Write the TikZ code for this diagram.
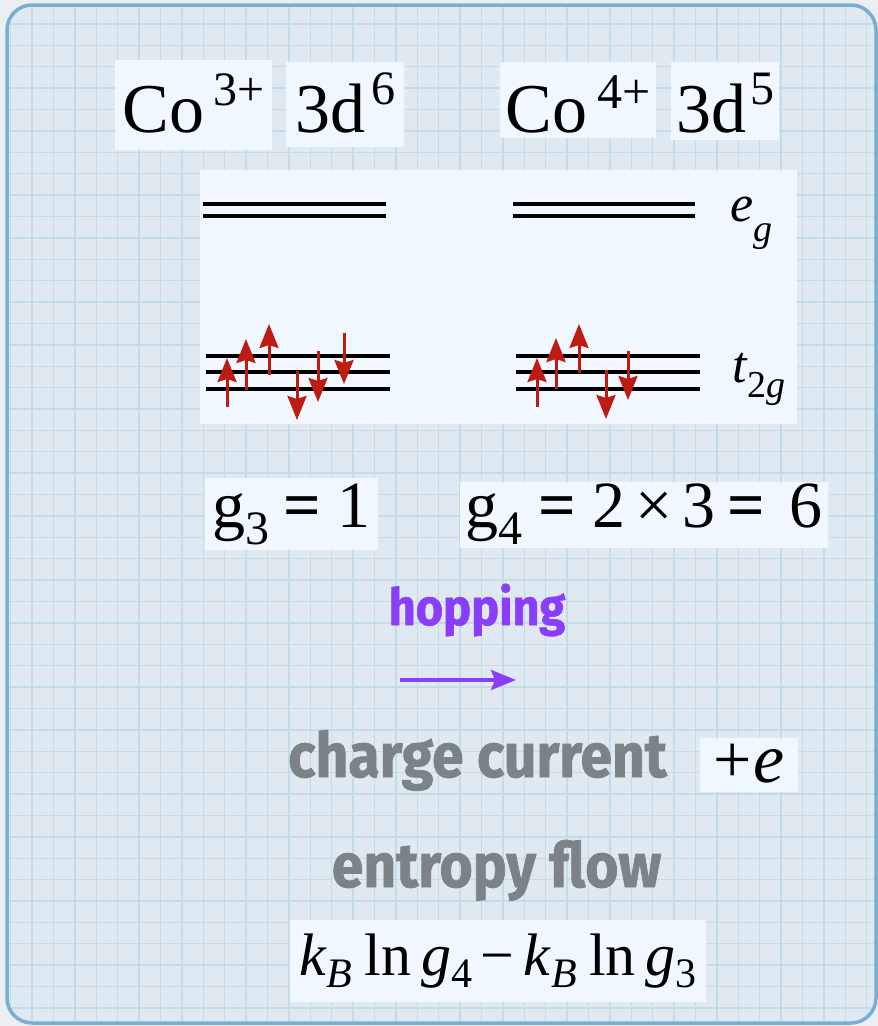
\documentclass[tikz,border=0pt]{standalone}
\usepackage{fontspec}
\setmainfont{Liberation Serif}
\newfontfamily\condfont{Fira Sans}[FakeStretch=0.92, BoldFeatures={FakeBold=1.2}]
\usetikzlibrary{arrows.meta}
\definecolor{pagebg}{RGB}{236,238,241}
\definecolor{sheetbg}{RGB}{224,232,240}
\definecolor{gridblue}{RGB}{196,220,234}
\definecolor{framblue}{RGB}{118,174,212}
\definecolor{boxbg}{RGB}{240,247,255}
\definecolor{spinred}{RGB}{190,28,18}
\definecolor{hoppurple}{RGB}{138,62,250}
\definecolor{flowgray}{RGB}{123,130,136}
\newcommand{\upidx}[3]{\raisebox{#2pt}{\fontsize{#1}{#1}\selectfont #3}}
\newcommand{\lowidx}[3]{\raisebox{-#2pt}{\fontsize{#1}{#1}\selectfont #3}}
\begin{document}
\begin{tikzpicture}[x=1pt, y=-1pt,
    tbox/.style={fill=boxbg, inner sep=0pt, anchor=base},
    ionfont/.style={font=\rmfamily\fontsize{70}{80}\selectfont},
    level/.style={line width=3.2pt, black},
    elec/.style={line width=3pt, spinred, -{Stealth[length=24pt, width=19pt, inset=3pt]}},
    hoparrow/.style={line width=3.4pt, hoppurple, -{Stealth[length=25pt, width=20pt, inset=4pt]}},
    bigsans/.style={font=\condfont\bfseries\fontsize{62}{64}\selectfont, text=flowgray, anchor=base, inner sep=0pt}
  ]
    \useasboundingbox (0,0) rectangle (878,1026);
    \fill[pagebg] (0,0) rectangle (878,1026);

    % sheet with grid
    \fill[sheetbg, rounded corners=25pt] (7,5) rectangle (876,1023);
    \begin{scope}
      \clip[rounded corners=25pt] (7,5) rectangle (876,1023);
      \foreach \gx in {0,...,41}
        \draw[gridblue, line width=1.4pt] ({10.6+21.4*\gx},0) -- ++(0,1026);
      \foreach \gy in {0,...,48}
        \draw[gridblue, line width=1.4pt] (0,{2.6+21.39*\gy}) -- ++(878,0);
    \end{scope}
    \draw[framblue, line width=3.5pt, rounded corners=25pt] (7,5) rectangle (876,1023);

    % ion labels
    \node[tbox, ionfont, minimum width=157pt, text height=72pt, text depth=18pt] (co3) at (193.5,132) {Co\hspace{9pt}\upidx{48}{27}{3+}};
    \node[tbox, ionfont, minimum width=118pt, text height=70pt, text depth=15pt] (d6) at (345,132) {3d\hspace{6pt}\upidx{48}{28}{6}};
    \node[tbox, ionfont, minimum width=156pt, text height=70pt, text depth=6pt] (co4) at (578,132) {Co\hspace{10pt}\upidx{50}{24}{4+}};
    \node[tbox, ionfont, minimum width=108pt, text height=70pt, text depth=8pt] (d5) at (725,132) {3d\hspace{4pt}\upidx{48}{28}{5}};

    % level scheme
    \node[fill=boxbg, inner sep=0pt, minimum width=597pt, minimum height=254pt] (levels) at (498.5,297) {};
    \foreach \ly in {204,216} {
      \draw[level] (203,\ly) -- (386,\ly);
      \draw[level] (513,\ly) -- (695,\ly);
    }
    \foreach \ly in {356,372,389} {
      \draw[level] (206,\ly) -- (390,\ly);
      \draw[level] (516,\ly) -- (700,\ly);
    }
    \node[anchor=base west, inner sep=0pt, font=\rmfamily\fontsize{52}{52}\selectfont] (eg) at (730,221) {\textit{e}\lowidx{38}{20}{\textit{g}}};
    \node[anchor=base west, inner sep=0pt, font=\rmfamily\fontsize{52}{52}\selectfont] (tg) at (732,382) {\textit{t}\lowidx{38}{15}{2\textit{g}}};

    % electrons
    \foreach \ex/\et/\eh in {227/407/358, 246/390/339, 269/375/324, 297/371/420, 318/351/402, 344/333/384}
      \draw[elec] (\ex,\et) -- (\ex,\eh);
    \foreach \ex/\et/\eh in {537/407/358, 556/389/338, 579/373/324, 606/370/419, 628/351/400}
      \draw[elec] (\ex,\et) -- (\ex,\eh);

    % degeneracies
    \node[tbox, font=\rmfamily\fontsize{66}{72}\selectfont, minimum width=173pt, text height=49pt, text depth=23pt] (g3) at (291.5,527)
      {g\lowidx{48}{17}{3}\hspace{14pt}\textbf{=}\hspace{16pt}1};
    \node[tbox, font=\rmfamily\fontsize{66}{72}\selectfont, minimum width=368pt, text height=45pt, text depth=21pt] (g4) at (644,527)
      {g\lowidx{48}{17}{4}\hspace{16pt}\textbf{=}\hspace{16pt}2\hspace{10pt}×\hspace{10pt}3\hspace{12pt}\textbf{=}\hspace{24pt}6};

    % hopping
    \node[bigsans, text=hoppurple, font=\condfont\bfseries\fontsize{51}{53}\selectfont] (hop) at (477,625) {hopping};
    \coordinate (hopA) at (400,680);
    \coordinate (hopB) at (516,680);
    \draw[hoparrow] (hopA) -- (hopB);

    % currents
    \node[bigsans] (charge) at (477.5,777) {charge current};
    \node[tbox, font=\rmfamily\fontsize{70}{76}\selectfont, minimum width=98pt, text height=44pt, text depth=10pt] (pluse) at (749,782)
      {\fontsize{68}{72}\selectfont+\hspace{2pt}\fontsize{70}{76}\selectfont\textit{e}};
    \node[bigsans] (entropy) at (496.5,887) {entropy flow};
    \node[tbox, font=\rmfamily\fontsize{60}{66}\selectfont, minimum width=416pt, text height=55pt, text depth=27pt] (kb) at (498,975)
      {\textit{k}\lowidx{42}{12}{\textit{B}}\hspace{12pt}ln\hspace{10pt}\textit{g}\lowidx{42}{12}{4}\hspace{8pt}−\hspace{10pt}\textit{k}\lowidx{42}{12}{\textit{B}}\hspace{12pt}ln\hspace{10pt}\textit{g}\lowidx{42}{12}{3}};
\end{tikzpicture}
\end{document}
